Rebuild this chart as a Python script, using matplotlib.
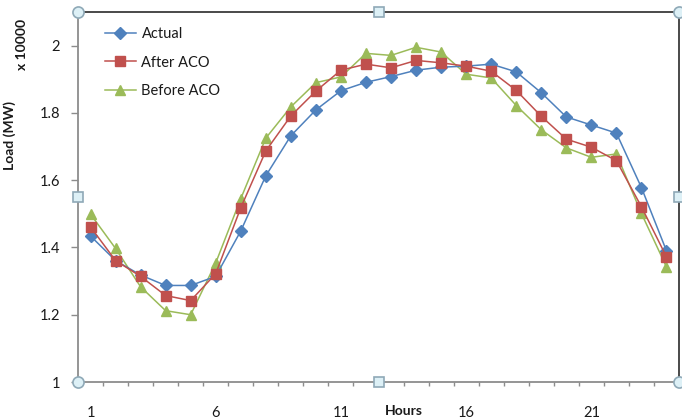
import matplotlib
matplotlib.use("Agg")
import matplotlib.pyplot as plt
from matplotlib.ticker import FixedLocator, NullFormatter

plt.rcParams['font.family'] = ['Lato', 'DejaVu Sans']

# Hourly load, in units of 10000 MW
hours = list(range(1, 25))
actual = [1.434, 1.361, 1.318, 1.287, 1.287, 1.314, 1.449, 1.613, 1.732,
          1.809, 1.866, 1.891, 1.908, 1.927, 1.936, 1.939, 1.945, 1.922,
          1.860, 1.788, 1.764, 1.740, 1.578, 1.390]
after_aco = [1.461, 1.361, 1.314, 1.257, 1.242, 1.322, 1.518, 1.687, 1.791,
             1.865, 1.927, 1.945, 1.934, 1.956, 1.949, 1.939, 1.924, 1.867,
             1.790, 1.722, 1.698, 1.658, 1.521, 1.372]
before_aco = [1.499, 1.397, 1.283, 1.212, 1.200, 1.354, 1.545, 1.725, 1.818,
              1.890, 1.907, 1.977, 1.971, 1.995, 1.981, 1.915, 1.904, 1.822,
              1.750, 1.696, 1.668, 1.678, 1.501, 1.342]
x_labels = [1, 6, 11, 16, 21]
y_ticks = [1, 1.2, 1.4, 1.6, 1.8, 2]

BLUE, RED, GREEN = '#4F81BD', '#C0504D', '#9BBB59'

fig = plt.figure(figsize=(6.82, 4.2), dpi=100)
ax = fig.add_axes([78 / 682, 1 - 382 / 420, 601 / 682, 370 / 420])

ax.plot(hours, actual, color=BLUE, lw=1.1, marker='D', ms=5.8,
        mfc=BLUE, mec=BLUE, label='Actual', zorder=3)
ax.plot(hours, after_aco, color=RED, lw=1.1, marker='s', ms=6.8,
        mfc=RED, mec=RED, label='After ACO', zorder=4)
ax.plot(hours, before_aco, color=GREEN, lw=1.1, marker='^', ms=7.2,
        mfc=GREEN, mec=GREEN, label='Before ACO', zorder=2)

ax.set_xlim(0.5, 24.5)
ax.set_ylim(1, 2.1)

# Category axis: tick marks at category boundaries, labels every fifth hour
ax.xaxis.set_major_locator(FixedLocator([h + 0.5 for h in range(0, 25)]))
ax.xaxis.set_major_formatter(NullFormatter())
ax.xaxis.set_minor_locator(FixedLocator(x_labels))
ax.set_xticklabels([str(v) for v in x_labels], minor=True)
ax.tick_params(axis='x', which='major', direction='out', length=3,
               width=1, color='#8C8C8C')
ax.tick_params(axis='x', which='minor', length=0, pad=17,
               labelsize=10.5, labelcolor='#1A1A1A')

ax.set_yticks(y_ticks)
ax.set_yticklabels(['1', '1.2', '1.4', '1.6', '1.8', '2'])
ax.tick_params(axis='y', direction='out', length=5, width=1,
               color='#8C8C8C', pad=8, labelsize=10.5, labelcolor='#1A1A1A')

for side in ('left', 'bottom'):
    ax.spines[side].set_color('#8C8C8C')
    ax.spines[side].set_linewidth(1.3)
for side in ('top', 'right'):
    ax.spines[side].set_color('#3A3A3A')
    ax.spines[side].set_linewidth(1.3)

fig.text(404 / 682, 1 - 411 / 420, 'Hours', ha='center', va='center',
         fontsize=10, fontweight='bold', color='#1A1A1A')
fig.text(10 / 682, 1 - 135 / 420, 'Load (MW)', ha='center', va='center',
         rotation=90, fontsize=10, fontweight='bold', color='#1A1A1A')
fig.text(22 / 682, 1 - 44 / 420, 'x 10000', ha='center', va='center',
         rotation=90, fontsize=10, fontweight='bold', color='#1A1A1A')

leg = ax.legend(loc='upper left', bbox_to_anchor=(105 / 682, 1 - 27 / 420),
                bbox_transform=fig.transFigure, frameon=False, fontsize=10.5,
                handlelength=2.1, handletextpad=0.4, labelspacing=1.0,
                borderpad=0, borderaxespad=0)
for txt in leg.get_texts():
    txt.set_color('#1A1A1A')

# Selection handles on the plot-area border
handle_face, handle_edge = '#DDF0F6', '#8FA9B7'
for (hx, hy) in [(0, 0), (1, 0), (0, 1), (1, 1)]:
    ax.plot(hx, hy, marker='o', ms=8, mfc=handle_face, mec=handle_edge,
            mew=1.2, transform=ax.transAxes, clip_on=False, zorder=10)
for (hx, hy) in [(0.5, 0), (0.5, 1), (0, 0.5), (1, 0.5)]:
    ax.plot(hx, hy, marker='s', ms=6.5, mfc=handle_face, mec=handle_edge,
            mew=1.2, transform=ax.transAxes, clip_on=False, zorder=10)

fig.savefig('out.png', dpi=100)
